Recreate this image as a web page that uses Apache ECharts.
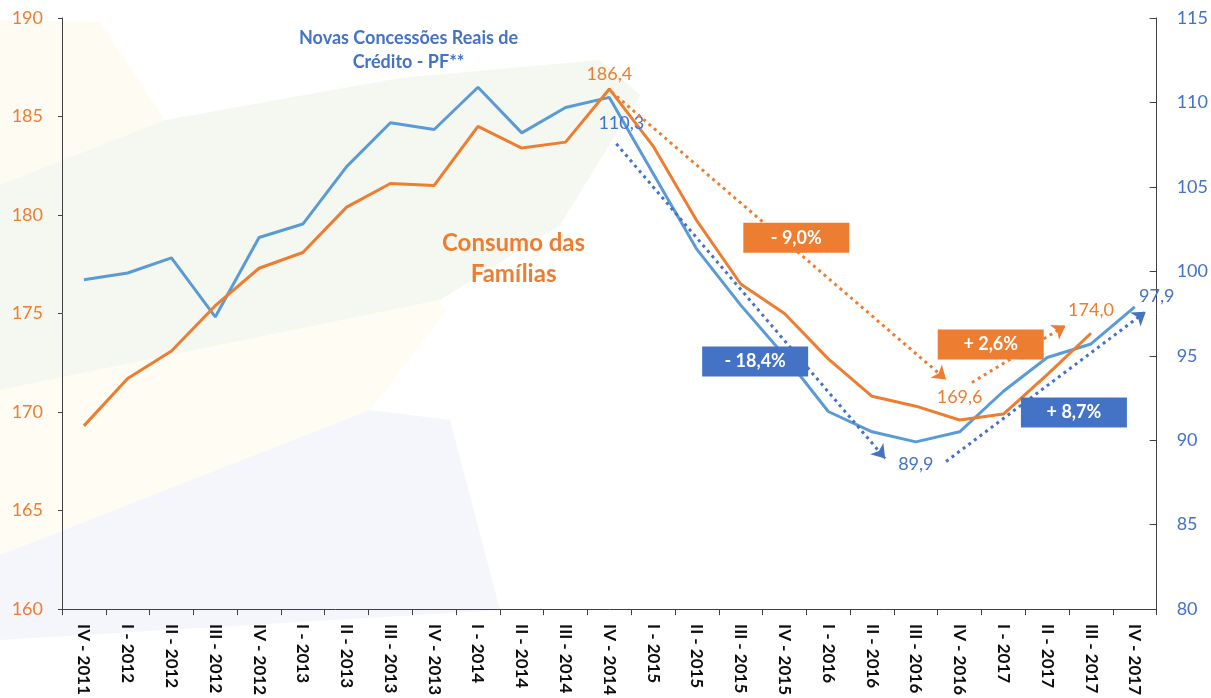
<!DOCTYPE html>
<html>
<head>
<meta charset="utf-8">
<script src="https://cdn.jsdelivr.net/npm/echarts@6/dist/echarts.min.js"></script>
<style>
  html, body { margin: 0; padding: 0; background: #fff; }
  #chart { width: 1211px; height: 698px; }
</style>
</head>
<body>
<div id="chart"></div>
<script>
// trimestres
var categories = ['IV - 2011', 'I - 2012', 'II - 2012', 'III - 2012', 'IV - 2012',
    'I - 2013', 'II - 2013', 'III - 2013', 'IV - 2013',
    'I - 2014', 'II - 2014', 'III - 2014', 'IV - 2014',
    'I - 2015', 'II - 2015', 'III - 2015', 'IV - 2015',
    'I - 2016', 'II - 2016', 'III - 2016', 'IV - 2016',
    'I - 2017', 'II - 2017', 'III - 2017', 'IV - 2017'];

// Consumo das Famílias (eixo esquerdo)
var consumo = [169.3, 171.7, 173.1, 175.4, 177.3, 178.1, 180.4, 181.6, 181.5,
    184.5, 183.4, 183.7, 186.4, 183.5, 179.7, 176.5, 175.0, 172.7, 170.8,
    170.3, 169.6, 169.9, 171.9, 174.0, null];

// Novas Concessões Reais de Crédito - PF (eixo direito)
var concessoes = [99.5, 99.9, 100.8, 97.3, 102.0, 102.8, 106.2, 108.8, 108.4,
    110.9, 108.2, 109.7, 110.3, 105.8, 101.3, 98.0, 95.0, 91.7, 90.5,
    89.9, 90.5, 92.9, 94.9, 95.7, 97.9];

// pontos com rótulo de valor
var rotulosConsumo = [12, 20, 23];
var rotulosConcessoes = [12, 19, 24];

// eixos
var ticksEsq = { min: 160, max: 190, step: 5 };
var ticksDir = { min: 80, max: 115, step: 5 };

// setas pontilhadas (posição do trimestre, valor)
var setasConsumo = [
    [[12.05, 186.25], [19.69, 171.65]],
    [[20.28, 171.5], [22.42, 174.39]]
];
var setasConcessoes = [
    [[12.16, 107.55], [18.3, 88.92]],
    [[19.69, 88.74], [24.25, 97.61]]
];

// caixas de variação
var caixasConsumo = [[16.27, 178.85, '- 9,0%'], [20.71, 173.43, '+ 2,6%']];
var caixasConcessoes = [[15.33, 94.66, '- 18,4%'], [22.61, 91.64, '+ 8,7%']];

var LARANJA = '#ED7D31';
var AZUL = '#4472C4';
var AZUL_LINHA = '#5B9BD5';
var FONTE = 'Lato';

function fmt(v) {
    return v.toFixed(1).replace('.', ',');
}

function montaDados(valores, rotulos, posicao) {
    return valores.map(function (v, i) {
        if (rotulos.indexOf(i) >= 0) {
            return { value: v, label: Object.assign({ show: true }, posicao(i)) };
        }
        return v;
    });
}

var dadosConsumo = montaDados(consumo, rotulosConsumo, function (i) {
    return { position: 'top', distance: i === 12 ? 6 : 14 };
});
var dadosConcessoes = montaDados(concessoes, rotulosConcessoes, function (i) {
    if (i === 12) return { position: 'bottom', distance: 17, offset: [12, 0] };
    if (i === 24) return { position: 'top', distance: 2, offset: [22, 0] };
    return { position: 'bottom', distance: 13 };
});

function caixa(dados, cor, eixoY) {
    return {
        type: 'scatter',
        xAxisIndex: 1,
        yAxisIndex: eixoY,
        symbolSize: 0,
        silent: true,
        z: 5,
        data: dados,
        encode: { x: 0, y: 1 },
        itemStyle: { opacity: 1, color: cor },
        label: {
            show: true,
            position: 'inside',
            formatter: function (p) { return p.data[2]; },
            color: '#fff',
            fontFamily: FONTE,
            fontSize: 18,
            fontWeight: 'bold',
            backgroundColor: cor,
            width: 106,
            height: 30,
            lineHeight: 30,
            align: 'center',
            verticalAlign: 'middle'
        }
    };
}

function seta(dados, cor, eixoY) {
    return {
        type: 'lines',
        coordinateSystem: 'cartesian2d',
        xAxisIndex: 1,
        yAxisIndex: eixoY,
        silent: true,
        z: 4,
        symbol: ['none', 'arrow'],
        symbolSize: 13,
        lineStyle: { color: cor, width: 3, type: [3, 4], opacity: 1, curveness: 0 },
        data: dados.map(function (c) { return { coords: c }; })
    };
}

var chart = echarts.init(document.getElementById('chart'));

var option = {
    backgroundColor: '#fff',
    animation: false,
    textStyle: { fontFamily: FONTE },
    grid: { left: 62, right: 53, top: 18, bottom: 88 },
    graphic: [
        // marca d'água ao fundo
        { type: 'polygon', z: -10, silent: true, shape: { points: [[0, 20], [100, 22], [165, 120], [0, 185]] }, style: { fill: '#fdfbf2' } },
        { type: 'polygon', z: -10, silent: true, shape: { points: [[0, 185], [165, 120], [400, 78], [600, 60], [640, 95], [560, 225], [440, 300], [0, 390]] }, style: { fill: '#f5f8f0' } },
        { type: 'polygon', z: -10, silent: true, shape: { points: [[0, 390], [440, 300], [445, 312], [370, 410], [0, 555]] }, style: { fill: '#fefcf3' } },
        { type: 'polygon', z: -10, silent: true, shape: { points: [[0, 555], [370, 410], [450, 420], [500, 610], [0, 640]] }, style: { fill: '#f4f6fb' } },
        {
            type: 'text', left: 299, top: 26, z: 10,
            style: {
                text: 'Novas Concessões Reais de\nCrédito - PF**',
                fill: AZUL, font: 'bold 18px Lato', textAlign: 'center', lineHeight: 24
            }
        },
        {
            type: 'text', left: 442, top: 228, z: 10,
            style: {
                text: 'Consumo das\nFamílias',
                fill: LARANJA, font: 'bold 24px Lato', textAlign: 'center', lineHeight: 31
            }
        }
    ],
    xAxis: [{
        type: 'category',
        data: categories,
        boundaryGap: true,
        axisLine: { lineStyle: { color: '#404040', width: 1 } },
        axisTick: { show: true, length: 6, lineStyle: { color: '#404040' } },
        axisLabel: {
            interval: 0,
            rotate: -90,
            margin: 15,
            color: '#0d0d0d',
            fontFamily: FONTE,
            fontSize: 17,
            fontWeight: 'bold'
        },
        splitLine: { show: false }
    }, {
        type: 'value',
        min: -0.5,
        max: 24.5,
        show: false
    }],
    yAxis: [{
        type: 'value',
        position: 'left',
        min: ticksEsq.min,
        max: ticksEsq.max,
        interval: ticksEsq.step,
        axisLine: { show: true, onZero: false, lineStyle: { color: '#404040', width: 1 } },
        axisTick: { show: true, length: 4, lineStyle: { color: '#404040' } },
        axisLabel: { color: LARANJA, fontFamily: FONTE, fontSize: 18, margin: 19 },
        splitLine: { show: false }
    }, {
        type: 'value',
        position: 'right',
        min: ticksDir.min,
        max: ticksDir.max,
        interval: ticksDir.step,
        axisLine: { show: true, onZero: false, lineStyle: { color: '#404040', width: 1 } },
        axisTick: { show: true, inside: true, length: 7, lineStyle: { color: '#404040' } },
        axisLabel: { color: AZUL, fontFamily: FONTE, fontSize: 18, margin: 20 },
        splitLine: { show: false }
    }],
    series: [{
        name: 'Novas Concessões Reais de Crédito - PF**',
        type: 'line',
        yAxisIndex: 1,
        data: dadosConcessoes,
        showSymbol: true,
        symbol: 'circle',
        symbolSize: 0,
        lineStyle: { color: AZUL_LINHA, width: 3 },
        itemStyle: { color: AZUL_LINHA },
        label: {
            color: AZUL, fontFamily: FONTE, fontSize: 18,
            formatter: function (p) { return fmt(p.value); }
        },
        z: 3
    }, {
        name: 'Consumo das Famílias',
        type: 'line',
        yAxisIndex: 0,
        data: dadosConsumo,
        showSymbol: true,
        symbol: 'circle',
        symbolSize: 0,
        lineStyle: { color: LARANJA, width: 3 },
        itemStyle: { color: LARANJA },
        label: {
            color: LARANJA, fontFamily: FONTE, fontSize: 18,
            formatter: function (p) { return fmt(p.value); }
        },
        z: 3
    },
    seta(setasConsumo, LARANJA, 0),
    seta(setasConcessoes, AZUL, 1),
    caixa(caixasConsumo, LARANJA, 0),
    caixa(caixasConcessoes, AZUL, 1)
    ]
};

chart.setOption(option);
</script>
</body>
</html>
